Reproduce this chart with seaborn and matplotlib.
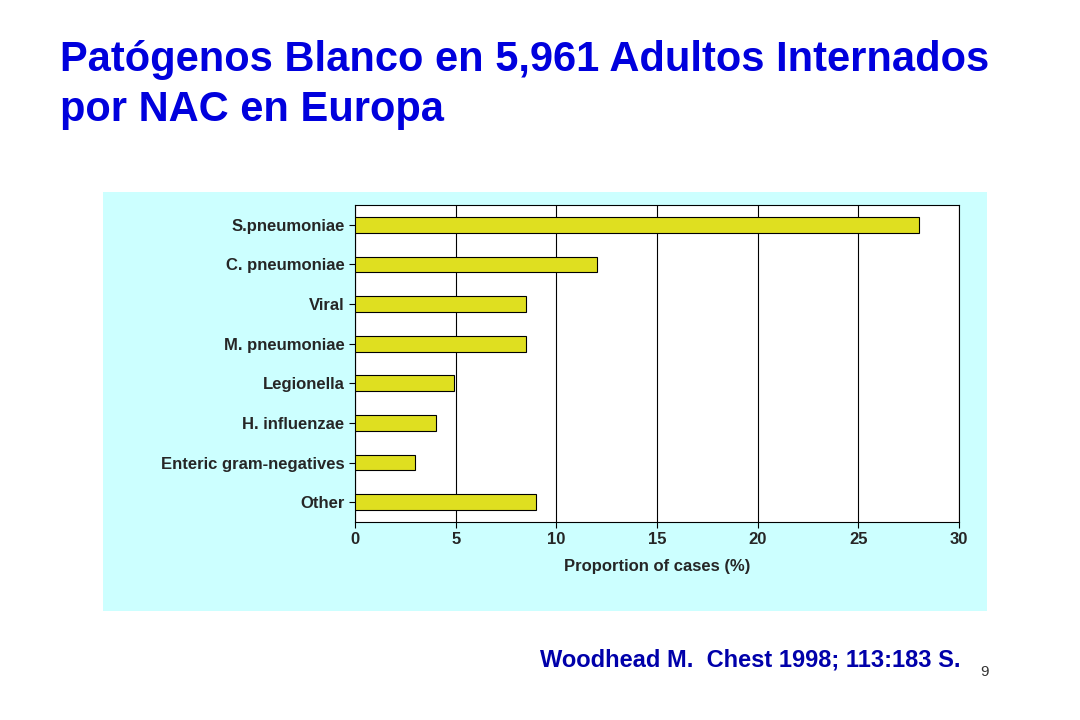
import matplotlib
matplotlib.use("Agg")
import matplotlib.pyplot as plt
import seaborn as sns
import pandas as pd

pathogens = ["S.pneumoniae", "C. pneumoniae", "Viral", "M. pneumoniae",
             "Legionella", "H. influenzae", "Enteric gram-negatives", "Other"]
proportions = [28, 12, 8.5, 8.5, 4.9, 4, 3, 9]
x_ticks = [0, 5, 10, 15, 20, 25, 30]

sns.set_style("white")
plt.rcParams["font.family"] = ["Liberation Sans", "DejaVu Sans"]

df = pd.DataFrame({"pathogen": pathogens, "pct": proportions})

fig = plt.figure(figsize=(10.8, 7.2), dpi=100)

# light cyan panel behind the chart
bg = fig.add_axes([103 / 1080, 1 - 611 / 720, 884 / 1080, 419 / 720], zorder=-1)
bg.set_facecolor("#ccffff")
bg.set_xticks([])
bg.set_yticks([])
for s in bg.spines.values():
    s.set_visible(False)

ax = fig.add_axes([355 / 1080, 1 - 522 / 720, 604 / 1080, 317 / 720], zorder=1)
ax.set_facecolor("white")
sns.barplot(data=df, x="pct", y="pathogen", color="#ffff00", edgecolor="black",
            linewidth=0.8, width=0.4, ax=ax, zorder=3)
ax.set_xlim(0, 30)
ax.set_xticks(x_ticks)
ax.xaxis.grid(True, color="black", linewidth=0.8)
ax.set_axisbelow(True)
for s in ax.spines.values():
    s.set_color("black")
    s.set_linewidth(0.8)
ax.tick_params(axis="both", length=4, color="black", direction="out", bottom=True, left=True)
ax.tick_params(axis="x", labelsize=12)
ax.tick_params(axis="y", labelsize=12)
for lbl in ax.get_xticklabels() + ax.get_yticklabels():
    lbl.set_fontweight("bold")
ax.set_ylabel("")
ax.set_xlabel("Proportion of cases (%)", fontsize=12, fontweight="bold", labelpad=8)

fig.text(60 / 1080, 1 - 60 / 720, "Patógenos Blanco en 5,961 Adultos Internados",
         fontsize=30, fontweight="bold", color="#0000dd", va="center")
fig.text(60 / 1080, 1 - 110 / 720, "por NAC en Europa",
         fontsize=30, fontweight="bold", color="#0000dd", va="center")
fig.text(540 / 1080, 1 - 660 / 720, "Woodhead M.  Chest 1998; 113:183 S.",
         fontsize=17, fontweight="bold", color="#0000aa", va="center")
fig.text(980 / 1080, 1 - 672 / 720, "9", fontsize=11, color="#333333", va="center")

fig.savefig("out.png", dpi=100)
